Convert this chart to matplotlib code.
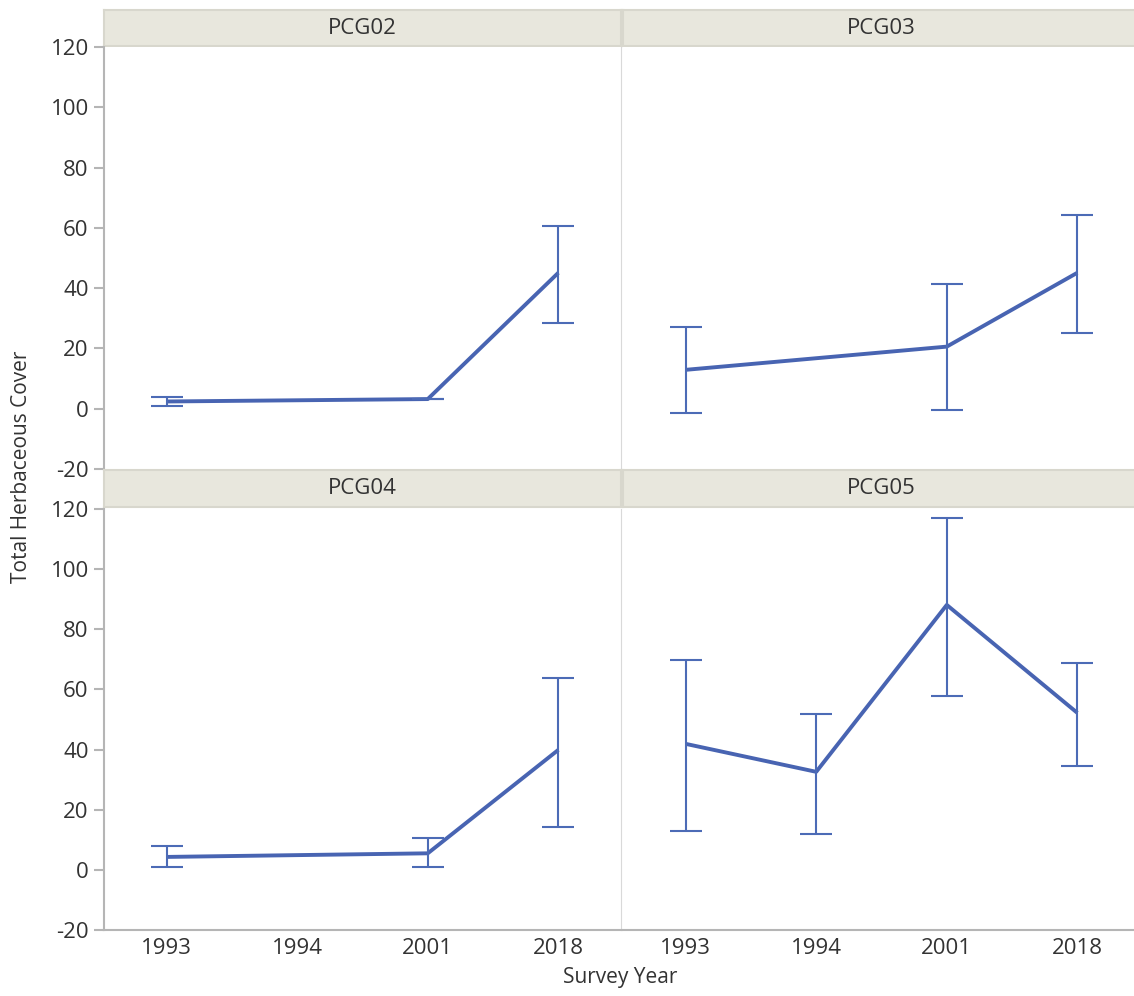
import numpy as np
import matplotlib
matplotlib.use("Agg")
import matplotlib.pyplot as plt

plt.rcParams['font.family'] = ['Open Sans', 'DejaVu Sans']

years = ['1993', '1994', '2001', '2018']
sites = ['PCG02', 'PCG03', 'PCG04', 'PCG05']

# mean cover and error bar limits per site, None where the year was not surveyed
means = {
    'PCG02': [2.4, None, 3.2, 45.1],
    'PCG03': [12.9, None, 20.6, 45.1],
    'PCG04': [4.3, None, 5.5, 39.9],
    'PCG05': [41.9, 32.6, 88.1, 52.2],
}
upper = {
    'PCG02': [3.9, None, 3.3, 60.7],
    'PCG03': [27.2, None, 41.5, 64.4],
    'PCG04': [8.0, None, 10.5, 63.8],
    'PCG05': [69.8, 51.9, 117.0, 68.8],
}
lower = {
    'PCG02': [1.0, None, 3.1, 28.5],
    'PCG03': [-1.3, None, -0.3, 25.2],
    'PCG04': [0.8, None, 0.8, 14.3],
    'PCG05': [13.0, 12.0, 57.8, 34.6],
}
yticks = [-20, 0, 20, 40, 60, 80, 100, 120]

W, H = 1134, 996
BLUE = '#4864B2'
TXT = '#333333'
STRIP = '#E8E7DD'
FS = 16

fig = plt.figure(figsize=(W / 100, H / 100), dpi=100)

def px_box(x0, y0, x1, y1):
    return [x0 / W, 1 - y1 / H, (x1 - x0) / W, (y1 - y0) / H]

cols = [(104, 621), (623, 1140)]
rows = [((10, 46), (47, 469)), ((470, 507), (509, 930))]

for i, site in enumerate(sites):
    r, c = divmod(i, 2)
    (sy0, sy1), (py0, py1) = rows[r]
    x0, x1 = cols[c]

    # strip header
    sax = fig.add_axes(px_box(x0, sy0, x1, sy1))
    sax.set_facecolor(STRIP)
    sax.set_xticks([])
    sax.set_yticks([])
    for s in sax.spines.values():
        s.set_color('#D8D7CD')
        s.set_linewidth(1.5)
    sax.text(0.5, 0.5, site, ha='center', va='center', fontsize=FS, color=TXT,
             transform=sax.transAxes)

    ax = fig.add_axes(px_box(x0, py0, x1, py1))
    idx = [k for k, v in enumerate(means[site]) if v is not None]
    m = np.array([means[site][k] for k in idx])
    hi = np.array([upper[site][k] for k in idx])
    lo = np.array([lower[site][k] for k in idx])
    ax.plot(idx, m, color=BLUE, lw=2.8, solid_capstyle='butt')
    ax.errorbar(idx, m, yerr=[m - lo, hi - m], fmt='none', ecolor='#4C6BB6',
                elinewidth=1.5, capsize=11.5, capthick=1.5)

    ax.set_xlim(-0.48, 3.48)
    ax.set_ylim(-20, 120)
    ax.spines['top'].set_visible(False)
    ax.spines['right'].set_color('#D9D9D9')
    ax.spines['left'].set_color('#B5B5B5')
    ax.spines['bottom'].set_color('#B5B5B5')
    ax.spines['left'].set_linewidth(1.5)
    ax.spines['bottom'].set_linewidth(1.5)
    ax.spines['bottom'].set_visible(r == 1)
    ax.spines['right'].set_visible(c == 0)
    ax.spines['left'].set_visible(c == 0)

    ax.set_xticks(range(len(years)))
    if r == 1:
        ax.set_xticklabels(years, fontsize=FS, color=TXT)
    else:
        ax.set_xticklabels([])
    ax.tick_params(axis='x', length=0, pad=6)

    ax.set_yticks(yticks)
    if c == 0:
        ax.set_yticklabels([str(t) for t in yticks], fontsize=FS, color=TXT)
        ax.tick_params(axis='y', length=7, color='#B5B5B5', width=1.5, pad=4)
    else:
        ax.tick_params(axis='y', length=0, labelleft=False)

fig.text(22 / W, 1 - 467 / H, 'Total Herbaceous Cover', rotation=90,
         ha='center', va='center', fontsize=15, color=TXT)
fig.text(620 / W, 1 - 977 / H, 'Survey Year', ha='center', va='center',
         fontsize=15, color=TXT)

fig.savefig('out.png', dpi=100)
